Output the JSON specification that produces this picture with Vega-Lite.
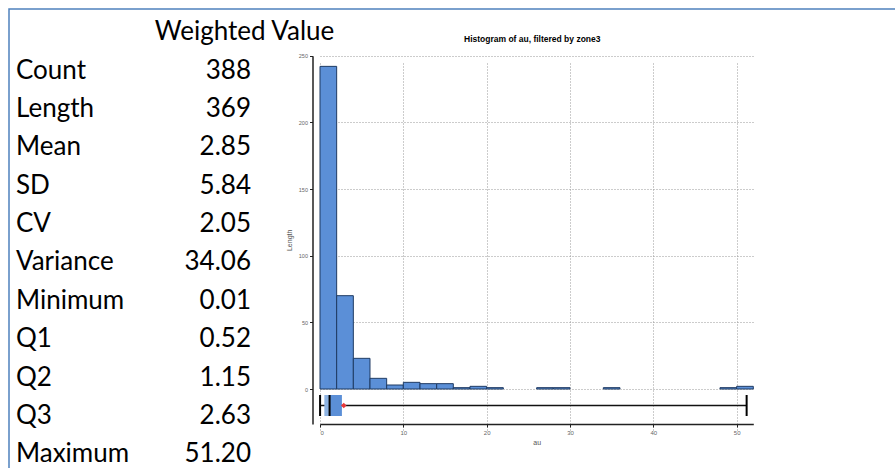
{
  "$schema": "https://vega.github.io/schema/vega-lite/v6.json",
  "usermeta": {"embedOptions": {"actions": false}},
  "width": 896,
  "height": 469,
  "autosize": "none",
  "padding": {"left": 9, "top": 9, "right": -10, "bottom": -10},
  "background": "white",
  "config": {
    "view": {"stroke": "#4F81BD", "strokeWidth": 1.5},
    "font": "Liberation Sans"
  },
  "title": {
    "text": "Histogram of au, filtered by zone3",
    "frame": "group",
    "anchor": "start",
    "dx": 455,
    "offset": -34,
    "fontSize": 8.5,
    "fontWeight": "bold",
    "font": "Liberation Sans",
    "color": "#000000"
  },
  "datasets": {
    "cells": [
      {"row": "Weighted Value", "col": "header", "text": "Weighted Value"},
      {"row": "Count", "col": "label", "text": "Count"},
      {"row": "Count", "col": "value", "text": "388"},
      {"row": "Length", "col": "label", "text": "Length"},
      {"row": "Length", "col": "value", "text": "369"},
      {"row": "Mean", "col": "label", "text": "Mean"},
      {"row": "Mean", "col": "value", "text": "2.85"},
      {"row": "SD", "col": "label", "text": "SD"},
      {"row": "SD", "col": "value", "text": "5.84"},
      {"row": "CV", "col": "label", "text": "CV"},
      {"row": "CV", "col": "value", "text": "2.05"},
      {"row": "Variance", "col": "label", "text": "Variance"},
      {"row": "Variance", "col": "value", "text": "34.06"},
      {"row": "Minimum", "col": "label", "text": "Minimum"},
      {"row": "Minimum", "col": "value", "text": "0.01"},
      {"row": "Q1", "col": "label", "text": "Q1"},
      {"row": "Q1", "col": "value", "text": "0.52"},
      {"row": "Q2", "col": "label", "text": "Q2"},
      {"row": "Q2", "col": "value", "text": "1.15"},
      {"row": "Q3", "col": "label", "text": "Q3"},
      {"row": "Q3", "col": "value", "text": "2.63"},
      {"row": "Maximum", "col": "label", "text": "Maximum"},
      {"row": "Maximum", "col": "value", "text": "51.20"}
    ],
    "bins": [
      {"bin_start": 0, "bin_end": 2, "length": 242},
      {"bin_start": 2, "bin_end": 4, "length": 70},
      {"bin_start": 4, "bin_end": 6, "length": 23},
      {"bin_start": 6, "bin_end": 8, "length": 8},
      {"bin_start": 8, "bin_end": 10, "length": 3},
      {"bin_start": 10, "bin_end": 12, "length": 5},
      {"bin_start": 12, "bin_end": 14, "length": 4},
      {"bin_start": 14, "bin_end": 16, "length": 4},
      {"bin_start": 16, "bin_end": 18, "length": 1},
      {"bin_start": 18, "bin_end": 20, "length": 2},
      {"bin_start": 20, "bin_end": 22, "length": 1},
      {"bin_start": 26, "bin_end": 28, "length": 1},
      {"bin_start": 28, "bin_end": 30, "length": 1},
      {"bin_start": 34, "bin_end": 36, "length": 1},
      {"bin_start": 48, "bin_end": 50, "length": 1},
      {"bin_start": 50, "bin_end": 52, "length": 2}
    ],
    "box": [
      {"min": 0.01, "q1": 0.52, "median": 1.15, "q3": 2.63, "max": 51.2, "mean": 2.85}
    ]
  },
  "resolve": {
    "scale": {"x": "independent", "y": "independent"},
    "axis": {"x": "independent", "y": "independent"}
  },
  "layer": [
    {
      "data": {"name": "cells"},
      "encoding": {
        "x": {"field": "col", "type": "nominal", "scale": {"type": "point", "domain": ["label", "header", "value"], "range": [7, 242], "padding": 0}, "axis": null},
        "y": {"field": "row", "type": "ordinal", "scale": {"type": "point", "domain": ["Weighted Value", "Count", "Length", "Mean", "SD", "CV", "Variance", "Minimum", "Q1", "Q2", "Q3", "Maximum"], "range": [23.4, 445.2], "padding": 0}, "axis": null},
        "text": {"field": "text"}
      },
      "layer": [
        {
          "transform": [{"filter": "datum.col === 'header'"}],
          "mark": {"type": "text", "align": "center", "baseline": "middle", "font": "Lato", "fontSize": 26, "color": "#000000", "dx": 111}
        },
        {
          "transform": [{"filter": "datum.col === 'label'"}],
          "mark": {"type": "text", "align": "left", "baseline": "middle", "font": "Lato", "fontSize": 26, "color": "#000000"}
        },
        {
          "transform": [{"filter": "datum.col === 'value'"}],
          "mark": {"type": "text", "align": "right", "baseline": "middle", "font": "Lato", "fontSize": 26, "color": "#000000"}
        }
      ]
    },
    {
      "layer": [
        {
          "data": {"name": "bins"},
          "mark": {"type": "bar", "fill": "#5B8FD7", "stroke": "#1F3B63", "strokeWidth": 1},
          "encoding": {
            "x": {
              "field": "bin_start", "type": "quantitative",
              "scale": {"domain": [0, 52], "range": [311, 744.3], "nice": false, "zero": false},
              "axis": {
                "orient": "bottom", "offset": -54, "values": [0, 10, 20, 30, 40, 50],
                "grid": true, "gridDash": [1, 2], "gridColor": "#999999", "gridWidth": 1,
                "domainColor": "#222222", "domainWidth": 1.5, "tickColor": "#222222", "tickSize": 3,
                "labelFontSize": 6, "labelColor": "#666666", "labelPadding": 2, "labelFont": "Liberation Sans",
                "title": "au", "titleFontSize": 7, "titleFontWeight": "normal", "titleColor": "#555555", "titlePadding": 3, "titleFont": "Liberation Sans"
              }
            },
            "x2": {"field": "bin_end"},
            "y": {
              "field": "length", "type": "quantitative",
              "scale": {"domain": [-26.25, 250], "range": [415, 46.7], "nice": false, "zero": false},
              "axis": {
                "orient": "left", "offset": -303.5, "values": [0, 50, 100, 150, 200, 250],
                "grid": true, "gridDash": [1, 2], "gridColor": "#999999", "gridWidth": 1,
                "domainColor": "#222222", "domainWidth": 1.5, "tickColor": "#222222", "tickSize": 3,
                "labelFontSize": 5.5, "labelColor": "#666666", "labelPadding": 2, "labelFont": "Liberation Sans",
                "title": "Length", "titleFontSize": 7, "titleFontWeight": "normal", "titleColor": "#555555", "titlePadding": 6, "titleFont": "Liberation Sans"
              }
            },
            "y2": {"datum": 0}
          }
        },
        {
          "data": {"name": "box"},
          "mark": {"type": "rule", "color": "#111111", "strokeWidth": 1.5},
          "encoding": {
            "x": {"field": "min", "type": "quantitative"},
            "x2": {"field": "max"},
            "y": {"datum": -12.4, "type": "quantitative"}
          }
        },
        {
          "data": {"name": "box"},
          "mark": {"type": "rule", "color": "#000000", "strokeWidth": 2},
          "encoding": {
            "x": {"field": "min", "type": "quantitative"},
            "y": {"datum": -4.5, "type": "quantitative"},
            "y2": {"datum": -20.25}
          }
        },
        {
          "data": {"name": "box"},
          "mark": {"type": "rule", "color": "#000000", "strokeWidth": 2},
          "encoding": {
            "x": {"field": "max", "type": "quantitative"},
            "y": {"datum": -4.5, "type": "quantitative"},
            "y2": {"datum": -20.25}
          }
        },
        {
          "data": {"name": "box"},
          "mark": {"type": "bar", "fill": "#8DB3E2"},
          "encoding": {
            "x": {"field": "q1", "type": "quantitative"},
            "x2": {"field": "median"},
            "y": {"datum": -4.5, "type": "quantitative"},
            "y2": {"datum": -20.25}
          }
        },
        {
          "data": {"name": "box"},
          "mark": {"type": "bar", "fill": "#5B8FD7"},
          "encoding": {
            "x": {"field": "median", "type": "quantitative"},
            "x2": {"field": "q3"},
            "y": {"datum": -4.5, "type": "quantitative"},
            "y2": {"datum": -20.25}
          }
        },
        {
          "data": {"name": "box"},
          "mark": {"type": "rule", "color": "#000000", "strokeWidth": 2},
          "encoding": {
            "x": {"field": "median", "type": "quantitative"},
            "y": {"datum": -4.5, "type": "quantitative"},
            "y2": {"datum": -20.25}
          }
        },
        {
          "data": {"name": "box"},
          "mark": {"type": "point", "shape": "diamond", "filled": true, "color": "#E8383A", "size": 30, "opacity": 1},
          "encoding": {
            "x": {"field": "mean", "type": "quantitative"},
            "y": {"datum": -12.4, "type": "quantitative"}
          }
        }
      ]
    }
  ]
}
